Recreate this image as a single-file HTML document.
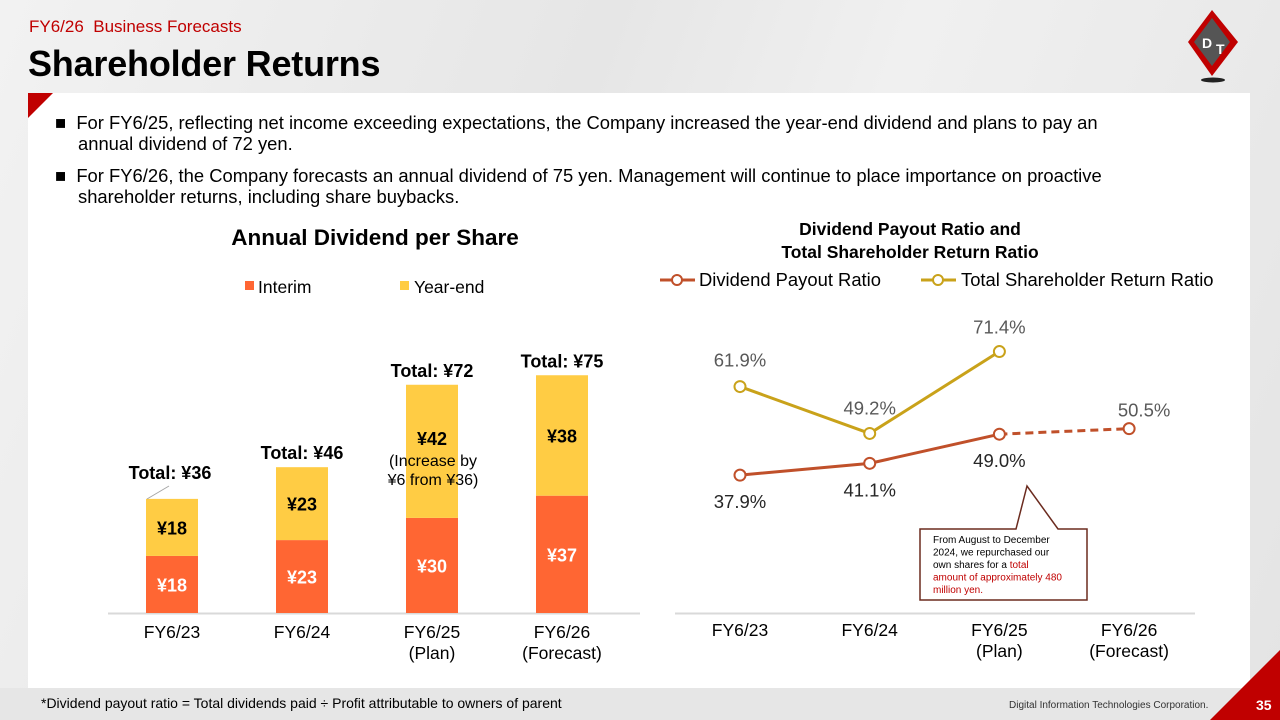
<!DOCTYPE html>
<html><head><meta charset="utf-8"><style>
body{margin:0;width:1280px;height:720px;overflow:hidden;font-family:"Liberation Sans",Arial,sans-serif;background:#ebebeb;position:relative}
.abs{position:absolute}
</style></head><body>
<div class="abs" style="left:0;top:0;width:1280px;height:720px;background:linear-gradient(110deg,#f2f2f2 0%,#e6e6e6 40%,#f0f0f0 60%,#e4e4e4 100%)"></div>
<div class="abs" style="left:29px;top:17px;font-size:17px;color:#c00000">FY6/26&nbsp; Business Forecasts</div>
<div class="abs" style="left:28px;top:43px;font-size:36px;font-weight:bold;color:#000;letter-spacing:-0.2px">Shareholder Returns</div>
<svg class="abs" style="left:1180px;top:8px" width="70" height="75"><polygon points="32,2 58,34 32,68 8,34" fill="#c00000"/><polygon points="32,10 50,34 32,58 14,34" fill="#555"/><text x="22" y="40" font-size="14" font-weight="bold" fill="#fff">D</text><text x="36" y="46" font-size="14" font-weight="bold" fill="#fff">T</text><ellipse cx="33" cy="72" rx="12" ry="2.5" fill="#222"/></svg>
<div class="abs" style="left:28px;top:93px;width:1222px;height:595px;background:#fff"></div>
<div class="abs" style="left:28px;top:93px;width:0;height:0;border-top:25px solid #c00000;border-right:25px solid transparent"></div>
<div class="abs" style="left:0;top:688px;width:1280px;height:32px;background:#e6e6e6"></div>
<div class="abs" style="left:41px;top:695px;font-size:14px">*Dividend payout ratio = Total dividends paid ÷ Profit attributable to owners of parent</div>
<div class="abs" style="left:1009px;top:700px;font-size:10px;color:#333">Digital Information Technologies Corporation.</div>
<div class="abs" style="left:1210px;top:650px;width:0;height:0;border-bottom:70px solid #c00000;border-left:70px solid transparent"></div>
<div class="abs" style="left:1256px;top:697px;font-size:14px;color:#fff;font-weight:bold">35</div>
<div class="abs" style="left:55px;top:112px;width:1075px;font-size:18.4px;line-height:21px;padding-left:23px;text-indent:-23px">■&nbsp; For FY6/25, reflecting net income exceeding expectations, the Company increased the year-end dividend and plans to pay an annual dividend of 72 yen.</div>
<div class="abs" style="left:55px;top:165px;width:1075px;font-size:18.4px;line-height:21px;padding-left:23px;text-indent:-23px">■&nbsp; For FY6/26, the Company forecasts an annual dividend of 75 yen. Management will continue to place importance on proactive shareholder returns, including share buybacks.</div>
<svg class="abs" style="left:0;top:0" width="1280" height="720" id="charts"></svg>
<script>
const barCats=["FY6/23","FY6/24","FY6/25|(Plan)","FY6/26|(Forecast)"];
const interim=[18,23,30,37];
const yearEnd=[18,23,42,38];
const totals=[36,46,72,75];
const lineCats=["FY6/23","FY6/24","FY6/25|(Plan)","FY6/26|(Forecast)"];
const payout=[37.9,41.1,49.0,50.5];
const tsr=[61.9,49.2,71.4,null];
const NS="http://www.w3.org/2000/svg";
const svg=document.getElementById('charts');
function el(t,a,txt){const e=document.createElementNS(NS,t);for(const k in a)e.setAttribute(k,a[k]);if(txt!=null)e.textContent=txt;svg.appendChild(e);return e;}
const bx=i=>172+i*130, by=v=>613-v*3.17, bw=52;
let e;
e=el('text',{x:375,y:245,'text-anchor':'middle','font-size':22.5,'font-weight':'bold'},'Annual Dividend per Share');


e=el('rect',{x:245,y:281,width:9,height:9,fill:'#ff6633'});


e=el('text',{x:258,y:293,'font-size':17.5},'Interim');


e=el('rect',{x:400,y:281,width:9,height:9,fill:'#ffcc44'});


e=el('text',{x:414,y:293,'font-size':17.5},'Year-end');


e=el('line',{x1:108,x2:640,y1:613.5,y2:613.5,stroke:'#d9d9d9','stroke-width':2});


barCats.forEach((c,i)=>{
 const x=bx(i);
 const y1=by(interim[i]), y2=by(interim[i]+yearEnd[i]);
 e=el('rect',{x:x-bw/2,y:y1,width:bw,height:613-y1,fill:'#ff6633'});
 
 
 e=el('rect',{x:x-bw/2,y:y2,width:bw,height:y1-y2,fill:'#ffcc44'});
 
 
 e=el('text',{x:x,y:(y1+613)/2+7,'text-anchor':'middle','font-size':18,'font-weight':'bold',fill:'#fff'},'¥'+interim[i]);
 
 
 const ly=(i==2)?(y2+60):((y1+y2)/2+7);
 e=el('text',{x:x,y:ly,'text-anchor':'middle','font-size':18,'font-weight':'bold'},'¥'+yearEnd[i]);
 
 
 const tx=i==0?x-2:x;
 const ty=i==0?by(totals[i])-20:by(totals[i])-8;
 e=el('text',{x:tx,y:ty,'text-anchor':'middle','font-size':18,'font-weight':'bold'},'Total: ¥'+totals[i]);
 
 
 const parts=c.split('|');
 parts.forEach((p,j)=>{e=el('text',{x:x,y:638+j*21,'text-anchor':'middle','font-size':17.5},p);
 
 });
});
e=el('line',{x1:147,y1:499,x2:169,y2:486,stroke:'#a6a6a6'});


e=el('text',{x:433,y:466,'text-anchor':'middle','font-size':16},'(Increase by');


e=el('text',{x:433,y:485,'text-anchor':'middle','font-size':16},'¥6 from ¥36)');


const lx=i=>740+i*129.7, ly=v=>615-v*3.69;
e=el('text',{x:910,y:235,'text-anchor':'middle','font-size':17.5,'font-weight':'bold'},'Dividend Payout Ratio and');


e=el('text',{x:910,y:258,'text-anchor':'middle','font-size':17.5,'font-weight':'bold'},'Total Shareholder Return Ratio');


e=el('line',{x1:660,x2:695,y1:280,y2:280,stroke:'#c0502a','stroke-width':3});


e=el('circle',{cx:677,cy:280,r:5,fill:'#fff',stroke:'#c0502a','stroke-width':2});


e=el('text',{x:699,y:286,'font-size':18.4},'Dividend Payout Ratio');


e=el('line',{x1:921,x2:956,y1:280,y2:280,stroke:'#c9a21a','stroke-width':3});


e=el('circle',{cx:938,cy:280,r:5,fill:'#fff',stroke:'#c9a21a','stroke-width':2});


e=el('text',{x:961,y:286,'font-size':18.4},'Total Shareholder Return Ratio');


e=el('line',{x1:675,x2:1195,y1:613.5,y2:613.5,stroke:'#d9d9d9','stroke-width':2});


let pts=tsr.map((v,i)=>v==null?null:lx(i)+','+ly(v)).filter(p=>p).join(' ');
e=el('polyline',{points:pts,fill:'none',stroke:'#c9a21a','stroke-width':3});


e=el('polyline',{points:payout.slice(0,3).map((v,i)=>lx(i)+','+ly(v)).join(' '),fill:'none',stroke:'#c0502a','stroke-width':3});


e=el('line',{x1:lx(2),y1:ly(payout[2]),x2:lx(3),y2:ly(payout[3]),stroke:'#c0502a','stroke-width':3,'stroke-dasharray':'8,5'});


const tsrOff=[[0,-20],[0,-19],[0,-18]];
tsr.forEach((v,i)=>{if(v==null)return;
 e=el('circle',{cx:lx(i),cy:ly(v),r:5.5,fill:'#fff',stroke:'#c9a21a','stroke-width':2});
 
 
 e=el('text',{x:lx(i)+tsrOff[i][0],y:ly(v)+tsrOff[i][1],'text-anchor':'middle','font-size':18.5,fill:'#595959'},v.toFixed(1)+'%');
 
 
});
payout.forEach((v,i)=>{
 e=el('circle',{cx:lx(i),cy:ly(v),r:5.5,fill:'#fff',stroke:'#c0502a','stroke-width':2});
 
 
 const dy=i==3?-12:33;
 const dx=i==3?15:0;
 e=el('text',{x:lx(i)+dx,y:ly(v)+dy,'text-anchor':'middle','font-size':18.5,fill:i==3?'#595959':'#262626'},v.toFixed(1)+'%');
 
 
});
lineCats.forEach((c,i)=>{c.split('|').forEach((p,j)=>{
 e=el('text',{x:lx(i),y:636+j*21,'text-anchor':'middle','font-size':17.5},p);
 
 });});
e=el('polygon',{points:'920,529 1016,529 1027,486 1058,529 1087,529 1087,600 920,600',fill:'#fff',stroke:'#6b2b1f','stroke-width':1.5});


const ct=[["From August to December",'#000'],["2024, we repurchased our",'#000'],["own shares for a ",'#000',"total"],["amount of approximately 480",'#c00000'],["million yen.",'#c00000']];
ct.forEach((r,j)=>{const t=el('text',{x:933,y:543+j*12.5,'font-size':10,fill:r[1]},r[0]);
 if(r[2]){const s=document.createElementNS(NS,'tspan');s.setAttribute('fill','#c00000');s.textContent=r[2];t.appendChild(s);}
 
 });
</script>
</body></html>
